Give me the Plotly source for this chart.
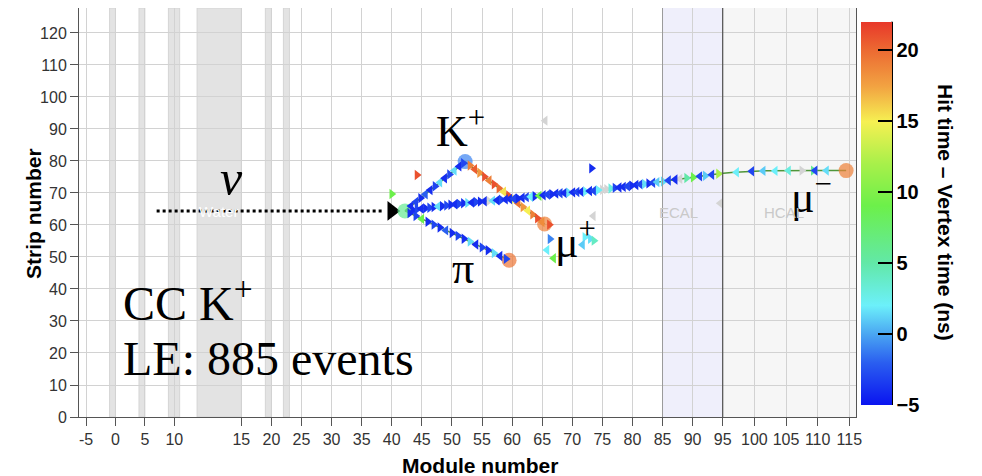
import numpy as np
import plotly.graph_objects as go

# ---------------- axis scale (module number -> display position) ----------------
MOD_ANCHORS = [-5, 10, 15, 95, 115]
AXIS_POS = [86.0, 174.3, 241.3, 722.7, 849.3]


def xm(m):
    return np.interp(np.asarray(m, dtype=float), MOD_ANCHORS, AXIS_POS).tolist()


X_TICKS = [-5, 0, 5, 10, 15, 20, 25, 30, 35, 40, 45, 50, 55, 60, 65, 70, 75, 80,
           85, 90, 95, 100, 105, 110, 115]
Y_TICKS = [0, 10, 20, 30, 40, 50, 60, 70, 80, 90, 100, 110, 120]
CB_TICKS = [-5, 0, 5, 10, 15, 20]

# ---------------- detector regions ----------------
PASSIVE_BANDS = [(-1, 0), (4, 5), (9, 10.4), (11.7, 15), (19, 20), (22, 23)]
ECAL_RANGE = (85, 95)
HCAL_START = 95

# ---------------- hits ----------------
KP_MOD = [43.2, 44.0, 44.8, 45.6, 46.4, 47.2, 48.0, 48.8, 49.6, 50.4, 51.2, 51.9]
KP_STRIP = [65.9, 67.2, 68.4, 69.6, 70.9, 72.1, 73.3, 74.6, 75.8, 77.0, 78.3, 79.3]
KP_TIME = [-4, -3, -4, -2, -4, -3, 1.5, -4, -3, 1.5, -4, -3]
KP_DIR = "LLRLLRLLRLLR"

MUP_MOD = [53.0, 53.8, 54.6, 55.4, 56.2, 57.0, 57.8, 58.6, 59.4, 60.2, 61.0, 61.8,
           62.6, 63.4, 64.2, 65.0, 66.2]
MUP_STRIP = [78.6, 77.4, 76.3, 75.1, 73.9, 72.7, 71.5, 70.4, 69.2, 68.0, 66.8, 65.6,
             64.5, 63.3, 62.1, 60.9, 60.1]
MUP_TIME = [19, 20.5, 18, 21, 19, 21, 20, 15.5, 21, 14.5, 19.5, 18, 15, 19, 21, 18.5, 21]
MUP_DIR = "RLRRLRRLRRLRLRRLR"

PI_MOD = [43.0, 44.0, 45.0, 46.0, 47.0, 48.0, 49.0, 50.0, 51.0, 52.0, 53.0, 54.0,
          55.0, 56.0, 57.0, 58.0, 59.0]
PI_STRIP = [63.7, 62.8, 61.9, 61.0, 60.1, 59.2, 58.3, 57.5, 56.6, 55.7, 54.8, 53.9,
            53.0, 52.1, 51.2, 50.3, 49.4]
PI_TIME = [-4, -3, 9, -4, -3, -4, -2, -4, -3, -4, 1.5, -4, -3, -4, 1.5, -4, -3]
PI_DIR = "RRLRRRLRRRRLRRRLR"

MUM_MOD = [43.5, 44.2, 44.9, 45.6, 46.3, 47.0, 47.7, 48.4, 49.1, 49.8, 50.5, 51.2,
           51.9, 52.6, 53.3, 54.0, 54.7, 55.4, 56.8, 57.5, 58.2, 58.9, 59.6, 60.3,
           61.0, 61.7, 62.4, 63.1, 63.8, 64.5, 65.2, 65.9, 66.6, 67.3, 68.0, 68.7,
           69.4, 70.1, 70.8, 71.5, 72.2, 72.9, 73.6, 74.3, 76.4, 77.1, 77.8, 78.5,
           79.2, 79.9, 80.6, 81.3, 82.0, 82.7, 83.4, 84.1, 85.1, 86.0, 87.1, 89.0,
           90.1, 91.2, 92.1, 93.2, 94.3, 97.2, 99.6, 101.4, 103.3, 105.4, 109.3,
           109.6, 111.4]
MUM_STRIP = [64.7, 64.9, 65.1, 65.2, 65.4, 65.6, 65.8, 65.9, 66.1, 66.3, 66.5, 66.6,
             66.8, 66.9, 67.0, 67.2, 67.3, 67.4, 67.6, 67.7, 67.9, 68.0, 68.1, 68.2,
             68.3, 68.5, 68.7, 68.8, 69.0, 69.1, 69.3, 69.5, 69.6, 69.8, 69.9, 70.0,
             70.1, 70.2, 70.3, 70.4, 70.5, 70.6, 70.7, 70.9, 71.4, 71.6, 71.7, 71.9,
             72.1, 72.3, 72.5, 72.7, 72.8, 73.0, 73.2, 73.4, 73.6, 73.9, 74.2, 74.7,
             74.9, 75.2, 75.4, 75.7, 76.0, 76.5, 76.8, 76.9, 76.9, 77.0, 77.0, 77.0,
             77.0]
MUM_TIME = [-4, -3, -4, -4, -3, -4, 1.5, -4, -3, -4,
            -4, -3, -4, 1.5, -4, -3, -4, -4, 1.5, -4,
            -3, -4, -4, -3, -4, -4, -3, 2, -4, 9,
            -4, -3, -4, -4, -3, -4, 1.5, -4, -3, -4,
            2, -4, -3, 2, 3, -3, -4, -4, -3, -4,
            -4, -3, 1.5, -4, -3, 1, 1.5, -3, -4, 5,
            9, -3, 1, -3, 12, 2, -3, 1, 2, 3,
            6, -3, 1.5]
MUM_DIR = ("RRLRRRLRRR" "LRRRLRRLLL" "RLLLRLLLRL" "LLRLLLRLLL"
           "RLLRRRLLLR" "LLRRLLRLLR" "RLRLRLLLLL" "RLL")

STRAY_MOD = [44.2, 40.0, 73.2, 65.8, 66.3, 66.9, 72.1, 73.0, 73.6, 71.7]
STRAY_STRIP = [75.6, 69.7, 77.7, 52.2, 55.6, 49.6, 56.2, 55.7, 55.1, 53.8]
STRAY_TIME = [21, 9, -4, 2, -1, 9, 2, 1.5, 4, 1]
STRAY_DIR = "RRRLRLRRRL"

GRAY_MOD = [56.1, 75.0, 75.7, 65.5, 73.5, 94.6, 87.9, 107.5]
GRAY_STRIP = [67.5, 71.0, 71.2, 92.6, 62.8, 66.8, 74.4, 77.0]
GRAY_DIR = "RRRLLLLR"

# ---------------- reconstructed tracks ----------------
KP_TRACK_MOD, KP_TRACK_STRIP = [42.2, 52.2], [64.4, 79.8]
MUP_TRACK_MOD, MUP_TRACK_STRIP = [52.2, 65.4], [79.8, 60.3]
PI_TRACK_MOD, PI_TRACK_STRIP = [42.2, 59.5], [64.4, 49.0]
MUM_TRACK_MOD = [42.2, 51.9, 54.7, 60.8, 67.9, 74.6, 84.6, 95.1, 100.9, 114.5]
MUM_TRACK_STRIP = [64.4, 66.8, 67.3, 68.3, 69.9, 70.9, 73.5, 76.2, 76.9, 77.0]

END_MOD = [42.2, 52.2, 65.4, 59.5, 114.5]
END_STRIP = [64.4, 79.8, 60.3, 49.0, 77.0]
END_TIME = [6, -1, 19, 19.5, 19]

NU_FROM, NU_TO, NU_HEAD, NU_STRIP = 7.0, 38.6, 40.0, 64.4

COLORSCALE = [[0.0, '#0a14f0'], [0.11, '#2a5ef0'], [0.185, '#4aa6f2'],
              [0.26, '#6cf0fa'], [0.37, '#62e8a8'], [0.52, '#6cf04a'],
              [0.63, '#a8f04a'], [0.74, '#f6f052'], [0.83, '#f2a442'],
              [0.926, '#ec6a32'], [1.0, '#e8382a']]
CMIN, CMAX = -5, 22


def sym(d):
    return ['triangle-left' if c == 'L' else 'triangle-right' for c in d]


fig = go.Figure()

TRACK_COLOR = '#4f963a'
for tx, ty in [(KP_TRACK_MOD, KP_TRACK_STRIP), (MUP_TRACK_MOD, MUP_TRACK_STRIP),
               (PI_TRACK_MOD, PI_TRACK_STRIP)]:
    fig.add_trace(go.Scatter(x=xm(tx), y=ty, mode='lines',
                             line=dict(color=TRACK_COLOR, width=1.5),
                             hoverinfo='skip', showlegend=False))
fig.add_trace(go.Scatter(x=xm(MUM_TRACK_MOD), y=MUM_TRACK_STRIP, mode='lines',
                         line=dict(color=TRACK_COLOR, width=1.5, shape='spline', smoothing=0.6),
                         hoverinfo='skip', showlegend=False))

# neutrino arrow
fig.add_trace(go.Scatter(x=xm([NU_FROM, NU_TO]), y=[NU_STRIP, NU_STRIP], mode='lines',
                         line=dict(color='black', width=3, dash='dot'),
                         hoverinfo='skip', showlegend=False))
fig.add_trace(go.Scatter(x=xm([NU_HEAD]), y=[NU_STRIP], mode='markers',
                         marker=dict(symbol='triangle-right', size=17, color='black'),
                         hoverinfo='skip', showlegend=False))

# gray hits
fig.add_trace(go.Scatter(x=xm(GRAY_MOD), y=GRAY_STRIP, mode='markers',
                         marker=dict(symbol=sym(GRAY_DIR), size=9, color='#d4d4d4',
                                     line=dict(width=0)),
                         showlegend=False))

# end points
fig.add_trace(go.Scatter(x=xm(END_MOD), y=END_STRIP, mode='markers',
                         marker=dict(size=15, color=END_TIME, coloraxis='coloraxis',
                                     opacity=0.7, line=dict(width=0)),
                         showlegend=False))

for hx, hy, ht, hd in [(KP_MOD, KP_STRIP, KP_TIME, KP_DIR),
                       (MUP_MOD, MUP_STRIP, MUP_TIME, MUP_DIR),
                       (PI_MOD, PI_STRIP, PI_TIME, PI_DIR),
                       (MUM_MOD, MUM_STRIP, MUM_TIME, MUM_DIR),
                       (STRAY_MOD, STRAY_STRIP, STRAY_TIME, STRAY_DIR)]:
    fig.add_trace(go.Scatter(x=xm(hx), y=hy, mode='markers',
                             marker=dict(symbol=sym(hd), size=9, color=ht,
                                         coloraxis='coloraxis', line=dict(width=0)),
                             showlegend=False))

# ---------------- page geometry (page has an 8 px body margin) ----------------
FIG_W, FIG_H = 974, 468
PAGE_OFF = 8
PL, PT, PW, PH = 79, 8, 777, 409   # plot area in page pixels
Y_TOP = 127.8


def px(x):
    return (x - PL) / PW


def py(y):
    return (PT + PH - y) / PH


shapes = []
for a, b in PASSIVE_BANDS:
    shapes.append(dict(type='rect', xref='x', yref='paper', x0=xm(a), x1=xm(b), y0=0, y1=1,
                       fillcolor='#e3e3e3', line=dict(width=1, color='#d5d5d5'), layer='below'))
shapes.append(dict(type='rect', xref='x', yref='paper', x0=xm(ECAL_RANGE[0]), x1=xm(ECAL_RANGE[1]),
                   y0=0, y1=1, fillcolor='#efeffb', line=dict(width=0), layer='below'))
shapes.append(dict(type='rect', xref='x', yref='paper', x0=xm(HCAL_START), x1=1000, y0=0, y1=1,
                   fillcolor='#f6f6f6', line=dict(width=0), layer='below'))
shapes.append(dict(type='line', xref='x', yref='paper', x0=xm(ECAL_RANGE[0]), x1=xm(ECAL_RANGE[0]),
                   y0=0, y1=1, line=dict(color='#9a9a9a', width=1), layer='above'))
shapes.append(dict(type='line', xref='x', yref='paper', x0=xm(HCAL_START), x1=xm(HCAL_START),
                   y0=0, y1=1, line=dict(color='#505050', width=1.2), layer='above'))
# colorbar right edge
shapes.append(dict(type='line', xref='paper', yref='paper', x0=px(892), x1=px(892),
                   y0=py(405), y1=py(21.7), line=dict(color='black', width=2)))

SERIF = 'Liberation Serif'
ann = []


def add_text(x, y, text, size, family=SERIF, color='black', xref='x', yref='y',
             xanchor='center', angle=0):
    ann.append(dict(x=x, y=y, xref=xref, yref=yref, text=text, showarrow=False,
                    xanchor=xanchor, yanchor='middle', textangle=angle,
                    font=dict(family=family, size=size, color=color)))


add_text(xm(14.3), 74.7, '<i>ν</i>', 50)
add_text(xm(51.4), 90.3, 'K<sup>+</sup>', 44)
add_text(xm(51.8), 46.5, 'π', 44)
add_text(xm(70.6), 55.5, 'μ<sup>+</sup>', 44)
add_text(xm(109.0), 69.5, 'μ<sup>−</sup>', 44)
add_text(px(121), py(300), 'CC K<sup>+</sup>', 48, xref='paper', yref='paper', xanchor='left')
add_text(px(121), py(358), 'LE: 885 events', 48, xref='paper', yref='paper', xanchor='left')
add_text(xm(13.3), 64.1, 'Water', 15, family='Liberation Sans', color='white')
add_text(xm(87.6), 63.8, 'ECAL', 15, family='Liberation Sans', color='#c9c9c9')
add_text(xm(104.7), 63.8, 'HCAL', 15, family='Liberation Sans', color='#c9c9c9')
add_text(px(480), py(465), '<b>Module number</b>', 21, family='Liberation Sans',
         xref='paper', yref='paper')
add_text(px(33), py(214), '<b>Strip number</b>', 21, family='Liberation Sans',
         xref='paper', yref='paper', angle=-90)
add_text(px(946), py(212), '<b>Hit time – Vertex time (ns)</b>', 21, family='Liberation Sans',
         xref='paper', yref='paper', angle=90)

fig.update_layout(
    width=FIG_W, height=FIG_H,
    margin=dict(l=PL - PAGE_OFF, r=FIG_W - (PL - PAGE_OFF) - PW, t=PT - PAGE_OFF,
                b=FIG_H - (PT - PAGE_OFF) - PH, autoexpand=False),
    paper_bgcolor='white', plot_bgcolor='white',
    shapes=shapes, annotations=ann,
    coloraxis=dict(
        colorscale=COLORSCALE, cmin=CMIN, cmax=CMAX,
        colorbar=dict(thickness=31, thicknessmode='pixels',
                      len=(405 - 21.7) / PH, lenmode='fraction',
                      x=px(861), xanchor='left', xpad=0,
                      y=py((405 + 21.7) / 2), yanchor='middle', ypad=0,
                      outlinewidth=0, ticks='inside', ticklen=14, tickwidth=2,
                      tickcolor='black', tickvals=CB_TICKS,
                      tickfont=dict(family='Liberation Sans', size=20, color='black',
                                    weight='bold')),
    ),
    xaxis=dict(range=[PL, PL + PW], tickvals=xm(X_TICKS), ticktext=[str(t) for t in X_TICKS],
               showgrid=True, gridcolor='#d2d2d2', gridwidth=1, zeroline=False,
               showline=True, linecolor='#555555', linewidth=1, mirror=True,
               ticks='outside', ticklen=8, tickcolor='#555555',
               tickfont=dict(family='Liberation Sans', size=16, color='#333333')),
    yaxis=dict(range=[0, Y_TOP], tickvals=Y_TICKS,
               showgrid=True, gridcolor='#d2d2d2', gridwidth=1, zeroline=False,
               showline=True, linecolor='#555555', linewidth=1, mirror=True,
               ticks='outside', ticklen=8, tickcolor='#555555',
               tickfont=dict(family='Liberation Sans', size=16, color='#333333')),
)

fig.write_html("out.html")
